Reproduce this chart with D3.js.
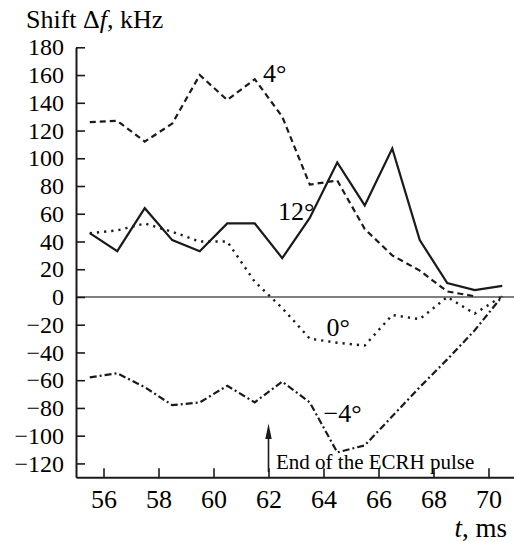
<!DOCTYPE html>
<html><head><meta charset="utf-8">
<script src="https://cdn.jsdelivr.net/npm/d3@7/dist/d3.min.js"></script>
<style>
html,body{margin:0;padding:0;background:#fff;}
</style></head>
<body>
<script>
const times = [55.5,56.5,57.5,58.5,59.5,60.5,61.5,62.5,63.5,64.5,65.5,66.5,67.5,68.5,69.5,70.5];
const shift12 = [46,33,64,41,33,53,53,28,57,97,66,107,41,10,5,8];
const shift4 = [126,127,112,125,160,142,157,130,81,84,49,30,19,4,0.5];
const shift0 = [46,48,53,47,40,40,11,-8,-30,-33,-35,-13,-16,0,-12,0.5];
const shiftM4 = [-58,-55,-65,-78,-76,-64,-76,-61,-76,-112,-107,-86,-65,-45,-24,0.5];
const xTicks = [56,58,60,62,64,66,68,70];
const yTicks = [-120,-100,-80,-60,-40,-20,0,20,40,60,80,100,120,140,160,180];

const FONT = '"Liberation Serif"';
const W = 514, H = 542;
const svg = d3.select("body").append("svg").attr("width", W).attr("height", H)
  .style("display", "block").style("font-family", FONT);
const x = d3.scaleLinear().domain([55, 71]).range([76, 516]);
const y = d3.scaleLinear().domain([-130, 180]).range([477.3, 47.3]);
const ink = "#1a1a1a";

// zero line
svg.append("line").attr("x1", x(55)).attr("x2", W).attr("y1", y(0)).attr("y2", y(0))
  .attr("stroke", "#555").attr("stroke-width", 1.6);

// axes
const yAxis = svg.append("g").attr("transform", `translate(${x(55)},0)`)
  .call(d3.axisLeft(y).tickValues(yTicks).tickSizeInner(-9).tickSizeOuter(0).tickPadding(12));
const xAxis = svg.append("g").attr("transform", `translate(0,${y(-130)})`)
  .call(d3.axisBottom(x).tickValues(xTicks).tickSizeInner(-9).tickSizeOuter(0).tickPadding(12));
[yAxis, xAxis].forEach(g => {
  g.attr("font-family", "Liberation Serif");
  g.select(".domain").attr("stroke", ink).attr("stroke-width", 2);
  g.selectAll(".tick line").attr("stroke", ink).attr("stroke-width", 1.6);
  g.selectAll("text").attr("fill", "#000").style("font-family", FONT);
});
yAxis.selectAll("text").style("font-size", "24px");
xAxis.selectAll("text").style("font-size", "26px");

// series
const line = d3.line().x((d, i) => x(times[i])).y(d => y(d));
function draw(data, dash, w) {
  svg.append("path").datum(data).attr("d", line)
    .attr("fill", "none").attr("stroke", ink).attr("stroke-width", w)
    .attr("stroke-dasharray", dash).attr("stroke-linejoin", "miter");
}
draw(shift4, "6,4", 2.2);
draw(shift12, null, 2.2);
draw(shift0, "2.2,5", 2.4);
draw(shiftM4, "7,3,2,3", 2.2);

// series labels
const lab = (t, px, py) => svg.append("text").attr("x", px).attr("y", py)
  .style("font-family", FONT).style("font-size", "26px").attr("fill", "#000").text(t);
lab("4°", 263, 81.7);
lab("12°", 278, 220);
lab("0°", 326.5, 336);
lab("−4°", 323.5, 421.7);

// title
const title = svg.append("text").attr("x", 26).attr("y", 27.5)
  .style("font-family", FONT).style("font-size", "26px").attr("fill", "#000");
title.append("tspan").text("Shift Δ");
title.append("tspan").style("font-style", "italic").text("f");
title.append("tspan").text(", kHz");

// x-axis label
const xl = svg.append("text").attr("x", 507).attr("y", 536.5).attr("text-anchor", "end")
  .style("font-family", FONT).style("font-size", "27px").attr("fill", "#000");
xl.append("tspan").style("font-style", "italic").text("t");
xl.append("tspan").text(", ms");

// ECRH arrow
const ax = x(62);
svg.append("line").attr("x1", ax).attr("x2", ax).attr("y1", 436).attr("y2", 472)
  .attr("stroke", ink).attr("stroke-width", 1.6);
svg.append("path").attr("d", `M${ax},423.5 L${ax-3.2},439 L${ax+3.2},439 Z`).attr("fill", ink);
svg.append("text").attr("x", 276).attr("y", 469.3)
  .style("font-family", FONT).style("font-size", "21px").attr("fill", "#000")
  .text("End of the ECRH pulse");
</script>
</body></html>
